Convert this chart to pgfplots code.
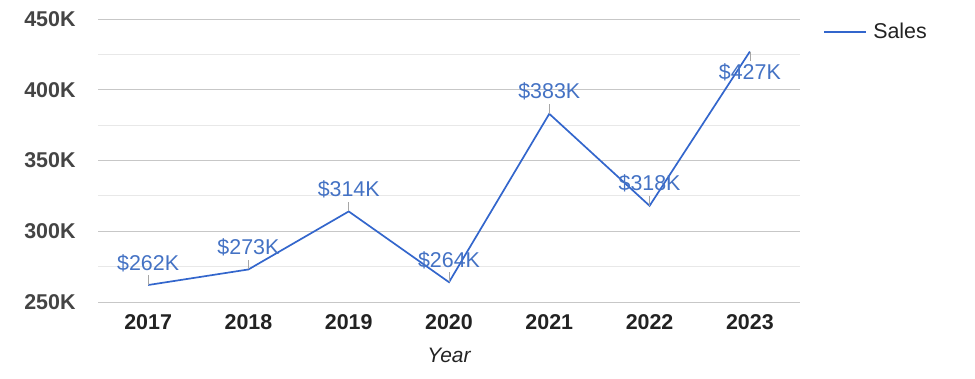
\documentclass[border=0pt]{standalone}
\usepackage{pgfplots}
\pgfplotsset{compat=1.18}
\usepackage{fontspec}
\setmainfont{Liberation Sans}
\definecolor{lineblue}{HTML}{3366CC}
\definecolor{labelblue}{HTML}{4472C4}
\definecolor{ticktext}{HTML}{444444}
\definecolor{darktext}{HTML}{222222}
\begin{document}
\begin{tikzpicture}[x=1bp,y=1bp]
\path[use as bounding box] (0,0) rectangle (975,378);
\begin{axis}[
  at={(98bp,76bp)}, anchor=south west,
  scale only axis, width=702bp, height=283bp,
  xmin=-0.5, xmax=6.5, ymin=250000, ymax=450000,
  xtick={0,1,2,3,4,5,6},
  xticklabels={2017,2018,2019,2020,2021,2022,2023},
  ytick={250000,300000,350000,400000,450000},
  yticklabels={250K,300K,350K,400K,450K},
  minor ytick={275000,325000,375000,425000},
  scaled y ticks=false,
  ymajorgrids, yminorgrids,
  major grid style={draw=black!22, line width=0.8bp},
  minor grid style={draw=black!9, line width=0.8bp},
  axis line style={draw=none},
  major tick length=0pt, minor tick length=0pt,
  tick style={draw=none},
  xticklabel style={font=\bfseries\fontsize{21.5}{24}\selectfont, text=darktext, yshift=-9bp},
  yticklabel style={font=\bfseries\fontsize{21.5}{24}\selectfont, text=ticktext, xshift=-19bp},
  xlabel={Year},
  xlabel style={font=\itshape\fontsize{21}{24}\selectfont, text=darktext, at={(axis description cs:0.5,-0.19)}, anchor=center},
  legend style={at={(axis description cs:1.029,1.0)}, anchor=north west, draw=none, fill=none,
     font=\fontsize{21.5}{24}\selectfont, text=darktext},
  legend image code/.code={\draw[#1] (0bp,0bp) -- (42bp,0bp); \path (46bp,0bp);},
  clip=false,
]
\addplot[color=lineblue, line width=1.7bp, mark=none] coordinates {
  (0,262000) (1,273000) (2,314000) (3,264000) (4,383000) (5,318000) (6,427000)
};
\addlegendentry{Sales}
% labels above points with leaders
\addplot[forget plot, only marks, mark=none,
  point meta=explicit symbolic,
  nodes near coords,
  every node near coord/.append style={anchor=base, yshift=15bp, text=labelblue, font=\fontsize{21.5}{24}\selectfont},
  error bars/.cd, y dir=plus, y fixed=7000, error mark=none,
  error bar style={draw=black!35, line width=0.7bp}]
coordinates {
  (0,262000) [\$262K]
  (1,273000) [\$273K]
  (2,314000) [\$314K]
  (3,264000) [\$264K]
  (4,383000) [\$383K]
  (5,318000) [\$318K]
};
% last label below the point
\addplot[forget plot, only marks, mark=none,
  point meta=explicit symbolic,
  nodes near coords,
  every node near coord/.append style={anchor=base, yshift=-28bp, text=labelblue, font=\fontsize{21.5}{24}\selectfont},
  error bars/.cd, y dir=minus, y fixed=7000, error mark=none,
  error bar style={draw=black!35, line width=0.7bp}]
coordinates {
  (6,427000) [\$427K]
};
\end{axis}
\end{tikzpicture}
\end{document}
